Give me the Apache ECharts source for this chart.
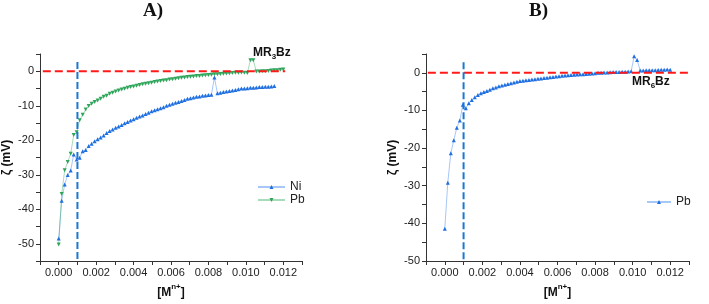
<!DOCTYPE html>
<html><head><meta charset="utf-8">
<script src="https://cdn.jsdelivr.net/npm/echarts@6/dist/echarts.min.js"></script>
<style>html,body{margin:0;padding:0;background:#fff}#c{width:709px;height:304px}</style>
</head><body><div id="c"></div>
<script>
// Concentration [M n+] (shared x values)
const conc = [0, 0.00016, 0.00032, 0.00048, 0.00064, 0.0008, 0.00096, 0.00112, 0.00128, 0.00144,
  0.0016, 0.00176, 0.00192, 0.00208, 0.00224, 0.0024, 0.00256, 0.00272, 0.00288, 0.00304,
  0.0032, 0.00336, 0.00352, 0.00368, 0.00384, 0.004, 0.00416, 0.00432, 0.00448, 0.00464,
  0.0048, 0.00496, 0.00512, 0.00528, 0.00544, 0.0056, 0.00576, 0.00592, 0.00608, 0.00624,
  0.0064, 0.00656, 0.00672, 0.00688, 0.00704, 0.0072, 0.00736, 0.00752, 0.00768, 0.00784,
  0.008, 0.00816, 0.00832, 0.00848, 0.00864, 0.0088, 0.00896, 0.00912, 0.00928, 0.00944,
  0.0096, 0.00976, 0.00992, 0.01008, 0.01024, 0.0104, 0.01056, 0.01072, 0.01088, 0.01104,
  0.0112, 0.01136, 0.01152, 0.01168, 0.01184, 0.012];

// Panel A: MR3Bz
const zetaNi = [-48.5,-37.5,-32.8,-30.1,-28.8,-24.1,-25.6,-25.1,-23.2,-22.8,
  -21.7,-21.0,-20.3,-19.7,-19.2,-18.6,-17.9,-17.3,-16.9,-16.4,
  -16.0,-15.6,-15.1,-14.7,-14.3,-13.9,-13.5,-13.1,-12.8,-12.4,
  -12.0,-11.6,-11.3,-11.0,-10.7,-10.4,-10.0,-9.7,-9.4,-9.1,
  -8.9,-8.6,-8.3,-8.0,-7.8,-7.6,-7.4,-7.3,-7.1,-7.0,
  -6.9,-6.8,-1.8,-6.4,-6.2,-6.0,-5.9,-5.7,-5.6,-5.4,
  -5.2,-5.0,-5.0,-4.9,-4.8,-4.8,-4.7,-4.6,-4.6,-4.5,
  -4.5,-4.4,-4.3];
const zetaPbA = [-50.2,-35.6,-28.7,-26.3,-23.9,-18.5,-17.7,-14.2,-12.6,-11.1,
  -10.1,-9.4,-8.9,-8.5,-8.0,-7.4,-7.1,-6.5,-6.2,-5.9,
  -5.6,-5.3,-5.1,-4.8,-4.6,-4.4,-4.2,-4.0,-3.8,-3.6,
  -3.5,-3.3,-3.1,-3.0,-2.8,-2.7,-2.6,-2.4,-2.3,-2.2,
  -2.0,-1.9,-1.8,-1.7,-1.6,-1.5,-1.4,-1.35,-1.25,-1.15,
  -1.1,-1.0,-0.9,-0.85,-0.8,-0.7,-0.65,-0.6,-0.5,-0.4,
  -0.4,-0.35,-0.4,-0.5,3.2,3.2,-0.1,-0.1,0.0,0.0,
  0.1,0.2,0.3,0.3,0.4,0.5];

// Panel B: MR6Bz
const zetaPbB = [-41.4,-29.2,-21.4,-17.9,-14.6,-12.7,-8.5,-9.4,-8.1,-7.2,
  -6.5,-5.9,-5.4,-5.1,-4.8,-4.5,-4.1,-3.9,-3.6,-3.4,
  -3.2,-3.0,-2.8,-2.6,-2.4,-2.2,-2.1,-2.0,-1.9,-1.8,
  -1.7,-1.6,-1.5,-1.4,-1.3,-1.2,-1.1,-1.0,-0.9,-0.8,
  -0.7,-0.65,-0.6,-0.5,-0.45,-0.4,-0.35,-0.3,-0.25,-0.2,
  -0.1,0.0,0.0,0.1,0.1,0.15,0.2,0.2,0.25,0.3,
  0.3,0.35,0.4,4.4,3.4,0.6,0.6,0.65,0.7,0.7,
  0.7,0.75,0.8,0.8,0.9,0.8];

// Reference lines
const cmcX = 0.001;      // vertical blue dashed
const zeroY = 0;         // horizontal red dashed
const xTicksShown = ['0.000','0.002','0.004','0.006','0.008','0.010','0.012'];
const yTicksShown = [-50,-40,-30,-20,-10,0];

const FONT = 'Liberation Sans, Arial, sans-serif';
const pairs = (ys) => ys.map((y, i) => [conc[i], y]);

function xAxis(gi) {
  return {
    type: 'value', gridIndex: gi, min: -0.001, max: 0.013, interval: 0.001,
    axisLine: {show: true, onZero: false, lineStyle: {color: '#333', width: 1}},
    axisTick: {show: true, inside: false, length: 4, lineStyle: {color: '#333'}},
    splitLine: {show: false},
    axisLabel: {
      color: '#222', fontFamily: FONT, fontSize: 11, margin: 6,
      formatter: v => { const s = v.toFixed(3); return xTicksShown.indexOf(s) >= 0 ? s : ''; },
      showMinLabel: true, showMaxLabel: true
    },
    name: '{a|[M}{s|n+}{a|]}', nameLocation: 'middle', nameGap: 22,
    nameTextStyle: {
      rich: {
        a: {fontFamily: FONT, fontSize: 12, fontWeight: 'bold', color: '#111', lineHeight: 16, verticalAlign: 'bottom'},
        s: {fontFamily: FONT, fontSize: 8, fontWeight: 'bold', color: '#111', lineHeight: 16, verticalAlign: 'top'}
      }
    }
  };
}
function yAxis(gi, min) {
  return {
    type: 'value', gridIndex: gi, min: min, max: 5, interval: 5,
    axisLine: {show: true, onZero: false, lineStyle: {color: '#333', width: 1}},
    axisTick: {show: true, inside: false, length: 4, lineStyle: {color: '#333'}},
    splitLine: {show: false},
    axisLabel: {
      color: '#222', fontFamily: FONT, fontSize: 11, margin: 6,
      formatter: v => (yTicksShown.indexOf(Math.round(v)) >= 0 && Math.abs(v - Math.round(v)) < 1e-6) ? String(Math.round(v)) : ''
    },
    name: 'ζ (mV)', nameLocation: 'middle', nameGap: 27, nameRotate: 90,
    nameTextStyle: {fontFamily: FONT, fontSize: 12, fontWeight: 'bold', color: '#111'}
  };
}

const blue = '#1f6fe0', blueLine = 'rgba(60,130,235,0.45)';
const green = '#2ea55a', greenLine = 'rgba(60,175,100,0.45)';

function dataSeries(name, ys, gi, color, lineColor, rot) {
  return {
    type: 'line', name: name, xAxisIndex: gi, yAxisIndex: gi, data: pairs(ys),
    symbol: 'triangle', symbolSize: 4, symbolRotate: rot, showSymbol: true,
    itemStyle: {color: color}, lineStyle: {color: lineColor, width: 1},
    emphasis: {disabled: true}, animation: false, z: 3
  };
}
function hLine(gi, x0, x1) {
  return {
    type: 'line', xAxisIndex: gi, yAxisIndex: gi, data: [[x0, zeroY], [x1, zeroY]],
    symbol: 'none', clip: false, lineStyle: {color: '#ff1a1a', width: 2, type: [8, 4]},
    animation: false, z: 5, silent: true, legendHoverLink: false
  };
}
function vLine(gi, yTop, yBot) {
  return {
    type: 'line', xAxisIndex: gi, yAxisIndex: gi, data: [[cmcX, yTop], [cmcX, yBot]],
    symbol: 'none', clip: false, lineStyle: {color: '#1a78d2', width: 2, type: [7, 3]},
    animation: false, z: 5, silent: true
  };
}

const subRich = {
  a: {fontFamily: FONT, fontSize: 12, fontWeight: 'bold', fill: '#111', lineHeight: 14, verticalAlign: 'top'},
  s: {fontFamily: FONT, fontSize: 8, fontWeight: 'bold', fill: '#111', lineHeight: 14, verticalAlign: 'bottom'}
};

const option = {
  backgroundColor: '#fff',
  animation: false,
  grid: [
    {left: 39, top: 54, width: 263, height: 212},
    {left: 426, top: 54, width: 263, height: 212}
  ],
  xAxis: [xAxis(0), xAxis(1)],
  yAxis: [yAxis(0, -55), yAxis(1, -50)],
  legend: [
    {data: ['Ni', 'Pb'], orient: 'vertical', left: 252, top: 176, itemWidth: 27, itemHeight: 5, itemGap: 1,
     textStyle: {fontFamily: FONT, fontSize: 12, color: '#222'}, selectedMode: false},
    {data: ['Pb '], orient: 'vertical', left: 641, top: 191, itemWidth: 24, itemHeight: 5,
     formatter: n => n.trim(),
     textStyle: {fontFamily: FONT, fontSize: 12, color: '#222'}, selectedMode: false}
  ],
  series: [
    dataSeries('Ni', zetaNi, 0, blue, blueLine, 0),
    dataSeries('Pb', zetaPbA, 0, green, greenLine, 180),
    dataSeries('Pb ', zetaPbB, 1, blue, blueLine, 0),
    hLine(0, -0.00085, 0.0121),
    hLine(1, -0.0009, 0.0141),
    vLine(0, 2.7, -55),
    vLine(1, 2.8, -50)
  ],
  graphic: [
    {type: 'text', left: 143, top: 2, style: {text: 'A)', font: 'bold 19px "Liberation Serif", "Times New Roman", serif', fill: '#111'}},
    {type: 'text', left: 529, top: 2, style: {text: 'B)', font: 'bold 19px "Liberation Serif", "Times New Roman", serif', fill: '#111'}},
    {type: 'text', left: 253, top: 47, style: {text: '{a|MR}{s|3}{a|Bz}', rich: subRich}},
    {type: 'text', left: 632, top: 76, style: {text: '{a|MR}{s|6}{a|Bz}', rich: subRich}}
  ]
};
const chart = echarts.init(document.getElementById('c'), null, {renderer: 'canvas'});
chart.setOption(option);
</script></body></html>
